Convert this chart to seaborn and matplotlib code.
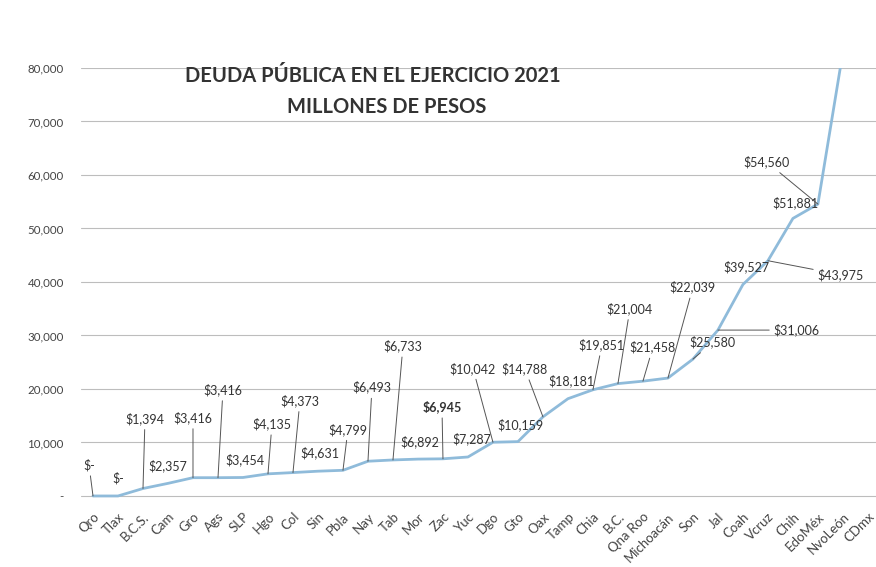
import pandas as pd
import seaborn as sns
import matplotlib.pyplot as plt
from matplotlib.ticker import FuncFormatter

# Datos (millones de pesos), ordenados de menor a mayor
estados = ["Qro", "Tlax", "B.C.S.", "Cam", "Gro", "Ags", "SLP", "Hgo", "Col", "Sin",
           "Pbla", "Nay", "Tab", "Mor", "Zac", "Yuc", "Dgo", "Gto", "Oax", "Tamp",
           "Chia", "B.C.", "Qna Roo", "Michoacán", "Son", "Jal", "Coah", "Vcruz",
           "Chih", "EdoMéx", "NvoLeón", "CDmx"]
deuda = [0, 0, 1394, 2357, 3416, 3416, 3454, 4135, 4373, 4631,
         4799, 6493, 6733, 6892, 6945, 7287, 10042, 10159, 14788, 18181,
         19851, 21004, 21458, 22039, 25580, 31006, 39527, 43975,
         51881, 54560, 83000, 93000]

df = pd.DataFrame({"estado": estados, "deuda": deuda})
df["pos"] = range(len(df))

# desplazamiento de cada etiqueta (pixeles) y si lleva linea guia
offsets = [(-4, 31), (0, 18), (2, 70), (0, 18), (0, 60), (5, 88), (2, 18), (4, 50),
           (7, 72), (2, 18), (5, 41), (4, 74), (10, 114), (2, 17), (-1, 52), (4, 18),
           (-20, 74), (2, 17), (-18, 48), (4, 18), (9, 45), (12, 75), (10, 34),
           (25, 91), (20, 17), (79, 0), (4, 18), (73, -14), (3, 16), (-51, 42)]
leader = [1, 0, 1, 0, 1, 1, 0, 1, 1, 0, 1, 1, 1, 0, 1, 0, 1, 0, 1, 0, 1, 1, 1, 1,
          1, 1, 0, 1, 0, 1]

sns.set_theme(style="white")
plt.rcParams['font.family'] = ['Lato', 'DejaVu Sans']

fig = plt.figure(figsize=(8.76, 5.67), dpi=100)
ax = fig.add_axes([0.0919, 0.1215, 0.908, 0.7586])

sns.lineplot(data=df, x="pos", y="deuda", sort=False, color="#8fbbda",
             linewidth=2.0, ax=ax)

ax.set_xlim(-0.5, 31.32)
ax.set_ylim(-400, 80000)
ax.set_yticks(range(0, 80001, 10000))
ax.yaxis.set_major_formatter(FuncFormatter(lambda v, p: "-" if v == 0 else f"{v:,.0f}"))
ax.set_xticks(range(len(estados)))
ax.set_xticklabels(estados, rotation=45, ha="right", rotation_mode="anchor")
ax.tick_params(axis="y", length=0, pad=12, labelsize=8.3, labelcolor="#444444")
ax.tick_params(axis="x", length=0, pad=9, labelsize=9.5, labelcolor="#444444")
ax.grid(axis="y", color="#bdbdbd", linewidth=0.8)
ax.set_axisbelow(True)
ax.set_xlabel("")
ax.set_ylabel("")
sns.despine(ax=ax, left=True, bottom=True)

for i, ((dx, dy), ld) in enumerate(zip(offsets, leader)):
    v = deuda[i]
    txt = "$-" if v == 0 else f"${v:,}"
    props = dict(arrowstyle="-", color="#555555", lw=0.7, shrinkA=1, shrinkB=0) if ld else None
    ax.annotate(txt, xy=(i, v), xytext=(dx, dy), textcoords="offset pixels",
                ha="center", va="center", fontsize=9, color="#333333",
                fontweight="bold" if estados[i] == "Zac" else "normal",
                arrowprops=props)

fig.text(0.4258, 0.866, "DEUDA PÚBLICA EN EL EJERCICIO 2021", ha="center", va="center",
         fontsize=14.5, fontweight="bold", color="#333333")
fig.text(0.4418, 0.8113, "MILLONES DE PESOS", ha="center", va="center",
         fontsize=14.5, fontweight="bold", color="#333333")

plt.savefig("out.png", dpi=100)
